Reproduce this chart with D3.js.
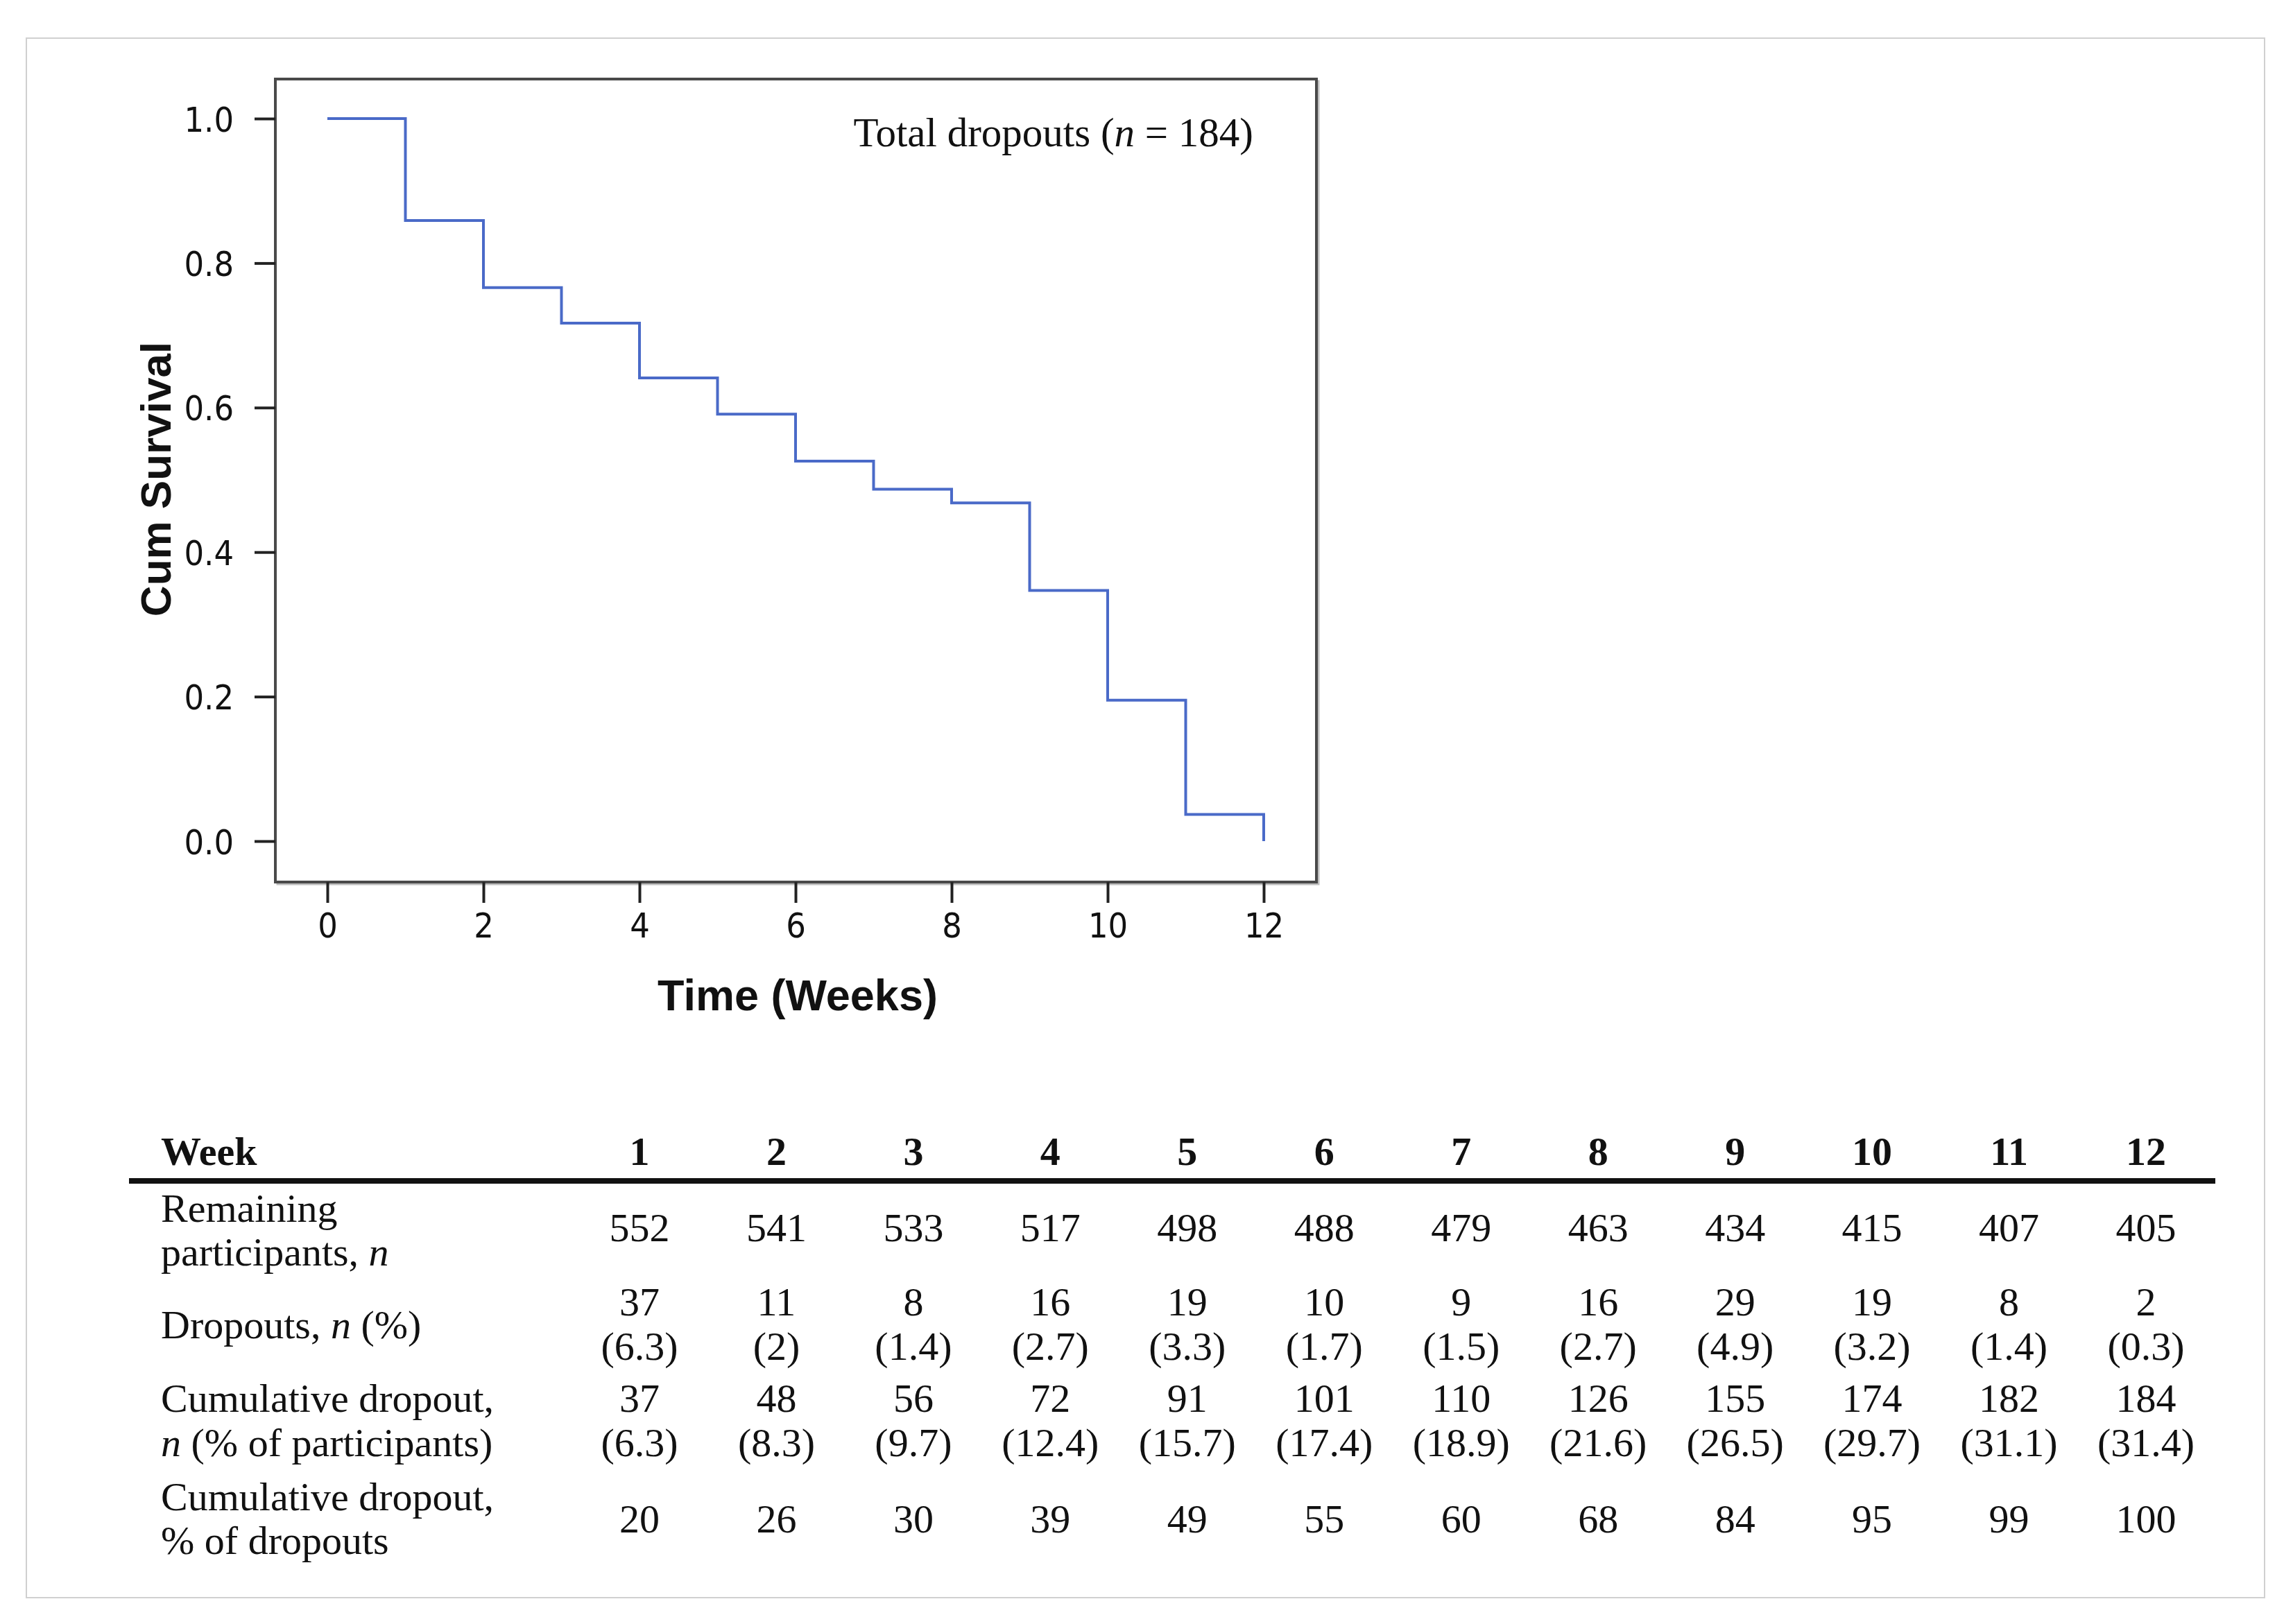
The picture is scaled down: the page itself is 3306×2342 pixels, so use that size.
<!DOCTYPE html>
<html>
<head>
<meta charset="utf-8">
<script src="https://cdnjs.cloudflare.com/ajax/libs/d3/7.8.5/d3.min.js"></script>
<style>
  body { margin: 0; background: #fff; }
  svg { display: block; }
</style>
</head>
<body>
<div id="chart"></div>
<script>
// km curve
var weeksAxis = [0, 1, 2, 3, 4, 5, 6, 7, 8, 9, 10, 11, 12];
var cumSurvival = [1.0, 0.859, 0.766, 0.717, 0.641, 0.591, 0.526, 0.487, 0.468, 0.347, 0.195, 0.037, 0.0];
var yTicks = [0.0, 0.2, 0.4, 0.6, 0.8, 1.0];
var xTicks = [0, 2, 4, 6, 8, 10, 12];

// table under the plot
var weeks = [1, 2, 3, 4, 5, 6, 7, 8, 9, 10, 11, 12];
var remaining = [552, 541, 533, 517, 498, 488, 479, 463, 434, 415, 407, 405];
var dropouts = [37, 11, 8, 16, 19, 10, 9, 16, 29, 19, 8, 2];
var dropoutPct = ["6.3", "2", "1.4", "2.7", "3.3", "1.7", "1.5", "2.7", "4.9", "3.2", "1.4", "0.3"];
var cumDropout = [37, 48, 56, 72, 91, 101, 110, 126, 155, 174, 182, 184];
var cumDropoutPct = ["6.3", "8.3", "9.7", "12.4", "15.7", "17.4", "18.9", "21.6", "26.5", "29.7", "31.1", "31.4"];
var cumPctOfDropouts = [20, 26, 30, 39, 49, 55, 60, 68, 84, 95, 99, 100];

var W = 3306, H = 2342;
var serif = "'Liberation Serif', 'Times New Roman', serif";
var narrow = "'Liberation Sans Narrow', 'DejaVu Sans Condensed', 'Arial Narrow', sans-serif";
var sans = "'Liberation Sans', Arial, sans-serif";

var svg = d3.select("#chart").append("svg")
    .attr("width", W)
    .attr("height", H);

// outer light frame
svg.append("rect")
    .attr("x", 38).attr("y", 55)
    .attr("width", 3227).attr("height", 2249)
    .attr("fill", "none")
    .attr("stroke", "#d0d0d0")
    .attr("stroke-width", 2);

// plot area
var box = {left: 397, top: 114, right: 1898, bottom: 1272};

var x = d3.scaleLinear().domain([0, 12]).range([472, 1822]);
var y = d3.scaleLinear().domain([0, 1]).range([1213, 171]);

// soft shadow then frame
svg.append("rect")
    .attr("x", box.left + 3).attr("y", box.top + 3)
    .attr("width", box.right - box.left).attr("height", box.bottom - box.top)
    .attr("fill", "none")
    .attr("stroke", "#bdbdbd")
    .attr("stroke-width", 3);

svg.append("rect")
    .attr("x", box.left).attr("y", box.top)
    .attr("width", box.right - box.left).attr("height", box.bottom - box.top)
    .attr("fill", "#fff")
    .attr("stroke", "#4a4a4a")
    .attr("stroke-width", 4);

var yAxis = svg.append("g")
    .attr("transform", "translate(" + box.left + ",0)")
    .call(d3.axisLeft(y).tickValues(yTicks).tickFormat(d3.format(".1f")).tickSize(30).tickPadding(30));

var xAxis = svg.append("g")
    .attr("transform", "translate(0," + box.bottom + ")")
    .call(d3.axisBottom(x).tickValues(xTicks).tickFormat(d3.format("d")).tickSize(30).tickPadding(14));

[yAxis, xAxis].forEach(function (g) {
  g.select(".domain").remove();
  g.selectAll(".tick line").attr("stroke", "#222").attr("stroke-width", 4);
  g.selectAll(".tick text")
      .attr("fill", "#111")
      .attr("font-family", narrow)
      .attr("font-size", "50px");
});
yAxis.selectAll(".tick text").attr("dy", "0.36em");
xAxis.selectAll(".tick text").attr("dy", "0.72em");

// survival step line
var pts = weeksAxis.map(function (t, i) { return [t, cumSurvival[i]]; });
var line = d3.line()
    .x(function (d) { return x(d[0]); })
    .y(function (d) { return y(d[1]); })
    .curve(d3.curveStepAfter);

svg.append("path")
    .datum(pts)
    .attr("d", line)
    .attr("fill", "none")
    .attr("stroke", "#4a6ac8")
    .attr("stroke-width", 4);

// annotation
var note = svg.append("text")
    .attr("x", 1807).attr("y", 211)
    .attr("text-anchor", "end")
    .attr("font-family", serif)
    .attr("font-size", "59px")
    .attr("fill", "#111");
note.append("tspan").text("Total dropouts (");
note.append("tspan").attr("font-style", "italic").text("n");
note.append("tspan").text(" = 184)");

// axis titles
svg.append("text")
    .attr("transform", "translate(246,691) rotate(-90)")
    .attr("text-anchor", "middle")
    .attr("font-family", sans)
    .attr("font-weight", "bold")
    .attr("font-size", "62px")
    .attr("fill", "#111")
    .text("Cum Survival");

svg.append("text")
    .attr("x", 1150).attr("y", 1457)
    .attr("text-anchor", "middle")
    .attr("font-family", sans)
    .attr("font-weight", "bold")
    .attr("font-size", "63px")
    .attr("fill", "#111")
    .text("Time (Weeks)");

// ---- table ----
var col = d3.scalePoint().domain(weeks).range([922, 3094]);
var labelX = 232;
var fs = "58px";

function addText(xp, yp, parts, opts) {
  opts = opts || {};
  var t = svg.append("text")
      .attr("x", xp).attr("y", yp)
      .attr("text-anchor", opts.anchor || "start")
      .attr("font-family", serif)
      .attr("font-size", fs)
      .attr("font-weight", opts.bold ? "bold" : "normal")
      .attr("fill", "#111");
  parts.forEach(function (p) {
    if (typeof p === "string") t.append("tspan").text(p);
    else t.append("tspan").attr("font-style", "italic").text(p.i);
  });
  return t;
}

// header
addText(labelX, 1680, ["Week"], {bold: true});
weeks.forEach(function (w) {
  addText(col(w), 1680, [String(w)], {bold: true, anchor: "middle"});
});

svg.append("line")
    .attr("x1", 186).attr("x2", 3194)
    .attr("y1", 1703).attr("y2", 1703)
    .attr("stroke", "#111")
    .attr("stroke-width", 8);

// row labels
addText(labelX, 1762, ["Remaining"]);
addText(labelX, 1825, ["participants, ", {i: "n"}]);
addText(labelX, 1930, ["Dropouts, ", {i: "n"}, " (%)"]);
addText(labelX, 2036, ["Cumulative dropout,"]);
addText(labelX, 2100, [{i: "n"}, " (% of participants)"]);
addText(labelX, 2178, ["Cumulative dropout,"]);
addText(labelX, 2241, ["% of dropouts"]);

// row values
weeks.forEach(function (w, i) {
  var cx = col(w);
  addText(cx, 1790, [String(remaining[i])], {anchor: "middle"});
  addText(cx, 1897, [String(dropouts[i])], {anchor: "middle"});
  addText(cx, 1961, ["(" + dropoutPct[i] + ")"], {anchor: "middle"});
  addText(cx, 2036, [String(cumDropout[i])], {anchor: "middle"});
  addText(cx, 2100, ["(" + cumDropoutPct[i] + ")"], {anchor: "middle"});
  addText(cx, 2210, [String(cumPctOfDropouts[i])], {anchor: "middle"});
});
</script>
</body>
</html>
